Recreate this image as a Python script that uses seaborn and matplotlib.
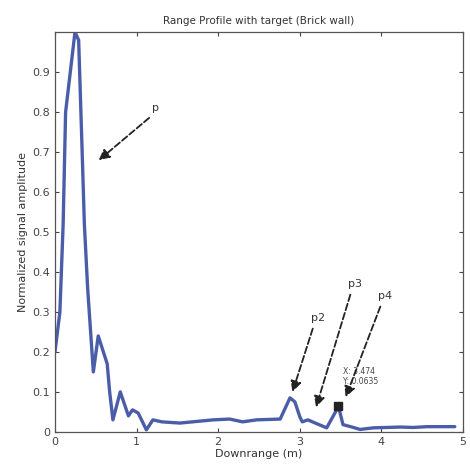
import pandas as pd
import matplotlib
matplotlib.use("Agg")
import matplotlib.pyplot as plt
import seaborn as sns

# range profile
downrange = [0.00, 0.06, 0.10, 0.13, 0.245, 0.29, 0.33, 0.36, 0.40, 0.47, 0.53,
             0.64, 0.67, 0.71, 0.80, 0.90, 0.95, 1.02, 1.12, 1.20, 1.31, 1.53,
             1.94, 2.14, 2.30, 2.47, 2.76, 2.88, 2.94, 3.00, 3.03, 3.10, 3.19,
             3.33, 3.43, 3.474, 3.53, 3.64, 3.74, 3.90, 4.07, 4.23, 4.39, 4.56,
             4.72, 4.90]
amplitude = [0.20, 0.30, 0.52, 0.80, 1.00, 0.98, 0.72, 0.52, 0.36, 0.15, 0.24,
             0.17, 0.10, 0.03, 0.10, 0.04, 0.055, 0.047, 0.005, 0.03, 0.025, 0.022,
             0.03, 0.032, 0.025, 0.03, 0.032, 0.085, 0.075, 0.038, 0.025, 0.03, 0.022,
             0.01, 0.047, 0.0635, 0.018, 0.012, 0.006, 0.01, 0.011, 0.012, 0.011, 0.013,
             0.013, 0.013]

tip_x, tip_y = 3.474, 0.0635

labels = ["p", "p2", "p3", "p4"]
label_x = [1.23, 3.22, 3.68, 4.05]
label_y = [0.81, 0.285, 0.37, 0.34]
head_x = [0.51, 2.90, 3.19, 3.55]
head_y = [0.675, 0.093, 0.055, 0.08]

df = pd.DataFrame({"Downrange (m)": downrange, "amp": amplitude})

sns.set_style("ticks")
plt.rcParams["font.family"] = ["DejaVu Sans"]
plt.rcParams["xtick.direction"] = "in"
plt.rcParams["ytick.direction"] = "in"

fig = plt.figure(figsize=(4.7, 4.73), dpi=100)
ax = fig.add_axes([0.117, 0.087, 0.868, 0.845])

sns.lineplot(data=df, x="Downrange (m)", y="amp", color="#4a5da8",
             linewidth=2.4, ax=ax)
ax.plot([tip_x], [tip_y], marker="s", color="#222222", markersize=6, linestyle="none")
ax.text(tip_x + 0.05, tip_y + 0.05, f"X: {tip_x}\nY: {tip_y}", fontsize=5.5,
        color="#444444", va="bottom")

for lab, lx, ly, hx, hy in zip(labels, label_x, label_y, head_x, head_y):
    ax.annotate("", xy=(hx, hy), xytext=(lx - 0.05, ly - 0.02),
                arrowprops=dict(arrowstyle="-|>", linestyle="--", color="#222222",
                                lw=1.3, mutation_scale=16))
    ax.text(lx, ly, lab, fontsize=8, color="#333333", ha="center", va="center")

ax.set_xlim(0, 5)
ax.set_ylim(0, 1)
ax.set_xticks(range(6))
ax.set_yticks([i / 10 for i in range(10)])
ax.set_yticklabels(["0"] + [f"0.{i}" for i in range(1, 10)])
ax.tick_params(labelsize=8, colors="#444444", top=True, right=True, length=3)
for s in ax.spines.values():
    s.set_color("#555555")
    s.set_linewidth(0.9)

ax.set_title("Range Profile with target (Brick wall)", fontsize=7.5, color="#333333")
ax.set_xlabel("Downrange (m)", fontsize=8, color="#333333", labelpad=2)
ax.set_ylabel("Normalized signal amplitude", fontsize=8, color="#333333", labelpad=3)

fig.savefig("out.png", dpi=100)
